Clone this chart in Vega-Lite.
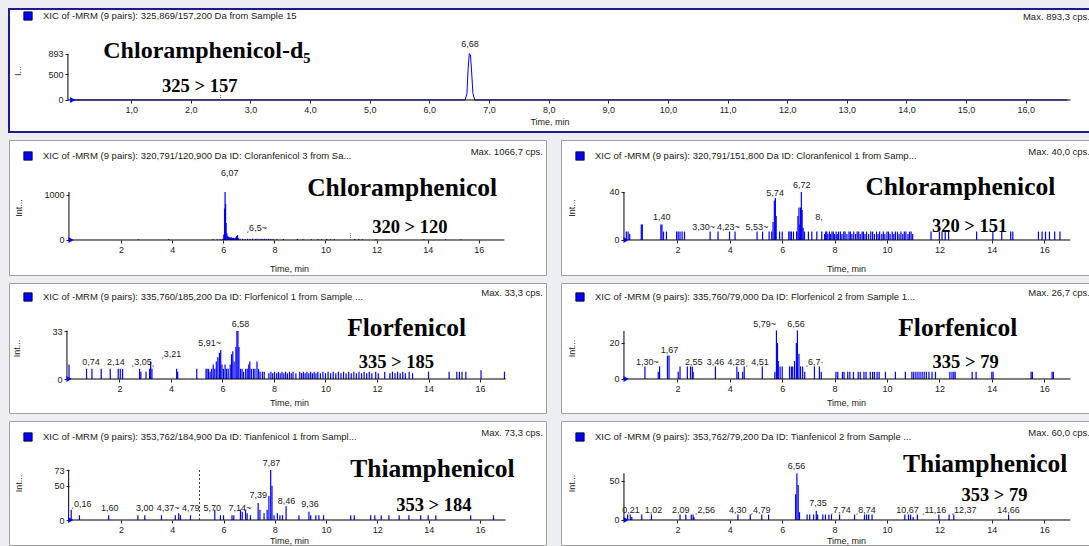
{
"$schema": "https://vega.github.io/schema/vega-lite/v6.json",
"padding": {"left": 8, "top": 8, "right": 0, "bottom": 0},
"background": "#eceef2",
"spacing": 6,
"config": {
  "font": "Liberation Sans",
  "axis": {"labelFont": "Liberation Sans", "labelFontSize": 9, "labelColor": "#222", "titleFont": "Liberation Sans", "titleFontSize": 9, "titleFontWeight": "normal", "titleColor": "#222", "grid": false, "domain": false, "tickSize": 3, "tickColor": "#222", "labelPadding": 2, "labelOverlap": false, "format": "d"},
  "legend": {"orient": "none", "title": null, "symbolType": "square", "symbolSize": 70, "symbolStrokeColor": "#000", "symbolStrokeWidth": 0.8, "labelFont": "Liberation Sans", "labelFontSize": 9.5, "labelColor": "#222", "labelLimit": 800, "labelOffset": 10, "padding": 0},
  "title": {"font": "Liberation Sans", "fontSize": 9.5, "fontWeight": "normal", "color": "#222", "anchor": "end", "baseline": "middle"},
  "text": {"font": "Liberation Sans", "fontSize": 9, "color": "#222"}
},
"datasets": {
  "top": [{"t":0,"i":0},{"t":6.6,"i":0},{"t":6.63,"i":120},{"t":6.65,"i":600},{"t":6.67,"i":893},{"t":6.69,"i":870},{"t":6.71,"i":520},{"t":6.73,"i":130},{"t":6.76,"i":0},{"t":16.7,"i":0}],
  "topl": [{"t":6.68,"i":1081,"label":"6,68"}],
  "p2": [{"t":0.03,"i":30},{"t":2.68,"i":15},{"t":3.86,"i":15},{"t":5.6,"i":15},{"t":5.75,"i":15},{"t":5.88,"i":15},{"t":5.98,"i":30},{"t":6.02,"i":120},{"t":6.05,"i":700},{"t":6.07,"i":1066},{"t":6.09,"i":800},{"t":6.11,"i":380},{"t":6.14,"i":150},{"t":6.17,"i":90},{"t":6.2,"i":70},{"t":6.24,"i":60},{"t":6.28,"i":55},{"t":6.32,"i":60},{"t":6.36,"i":45},{"t":6.4,"i":50},{"t":6.44,"i":40},{"t":6.48,"i":55},{"t":6.52,"i":90},{"t":6.56,"i":110},{"t":6.6,"i":40},{"t":6.66,"i":30},{"t":6.76,"i":25},{"t":6.85,"i":20},{"t":6.95,"i":25},{"t":7.05,"i":20},{"t":7.15,"i":25},{"t":7.25,"i":20},{"t":7.32,"i":25},{"t":7.4,"i":20},{"t":7.48,"i":25},{"t":7.55,"i":20},{"t":7.62,"i":25},{"t":7.7,"i":20},{"t":7.78,"i":25},{"t":7.86,"i":20},{"t":7.95,"i":20},{"t":8.1,"i":15},{"t":8.35,"i":20},{"t":8.9,"i":20},{"t":9.12,"i":15},{"t":9.45,"i":15},{"t":9.7,"i":15},{"t":9.85,"i":15},{"t":10.05,"i":20},{"t":10.2,"i":15},{"t":10.35,"i":15},{"t":11.15,"i":20},{"t":11.3,"i":20},{"t":11.45,"i":15},{"t":11.98,"i":15},{"t":13.85,"i":15},{"t":14.7,"i":15},{"t":15.3,"i":15}],
  "p2l": [{"t":6.25,"i":1480,"label":"6,07"},{"t":7.3,"i":270,"label":"ˏ6,5~"}],
  "p3": [{"t":0.05,"i":7},{"t":0.12,"i":7},{"t":0.18,"i":5},{"t":0.62,"i":13},{"t":0.66,"i":13},{"t":1.37,"i":13},{"t":1.41,"i":13},{"t":1.47,"i":7},{"t":1.58,"i":7},{"t":1.97,"i":7},{"t":2.03,"i":7},{"t":2.1,"i":7},{"t":2.18,"i":7},{"t":2.27,"i":7},{"t":3.25,"i":7},{"t":3.55,"i":7},{"t":3.99,"i":7},{"t":4.2,"i":7},{"t":5.04,"i":7},{"t":5.25,"i":7},{"t":5.5,"i":7},{"t":5.6,"i":7},{"t":5.65,"i":15},{"t":5.7,"i":33},{"t":5.74,"i":35},{"t":5.77,"i":20},{"t":5.9,"i":7},{"t":6.0,"i":7},{"t":6.25,"i":7},{"t":6.3,"i":7},{"t":6.35,"i":7},{"t":6.43,"i":7},{"t":6.55,"i":7},{"t":6.6,"i":20},{"t":6.64,"i":27},{"t":6.67,"i":13},{"t":6.7,"i":27},{"t":6.73,"i":40},{"t":6.76,"i":25},{"t":6.8,"i":10},{"t":6.85,"i":7},{"t":7.0,"i":7},{"t":7.13,"i":7},{"t":7.32,"i":7},{"t":7.51,"i":7},{"t":7.62,"i":5},{"t":7.66,"i":7},{"t":7.7,"i":7},{"t":7.74,"i":5},{"t":7.8,"i":7},{"t":7.85,"i":5},{"t":7.9,"i":7},{"t":7.95,"i":7},{"t":8.0,"i":5},{"t":8.06,"i":7},{"t":8.1,"i":5},{"t":8.15,"i":7},{"t":8.22,"i":7},{"t":8.28,"i":5},{"t":8.35,"i":7},{"t":8.4,"i":7},{"t":8.47,"i":5},{"t":8.55,"i":7},{"t":8.6,"i":7},{"t":8.66,"i":5},{"t":8.73,"i":7},{"t":8.8,"i":5},{"t":8.86,"i":7},{"t":8.92,"i":7},{"t":8.98,"i":5},{"t":9.05,"i":7},{"t":9.1,"i":7},{"t":9.16,"i":5},{"t":9.22,"i":7},{"t":9.3,"i":5},{"t":9.38,"i":7},{"t":9.45,"i":7},{"t":9.52,"i":5},{"t":9.6,"i":7},{"t":9.66,"i":5},{"t":9.72,"i":7},{"t":9.8,"i":5},{"t":9.86,"i":7},{"t":9.92,"i":5},{"t":10.0,"i":7},{"t":10.06,"i":7},{"t":10.12,"i":5},{"t":10.2,"i":7},{"t":10.26,"i":5},{"t":10.32,"i":7},{"t":10.4,"i":7},{"t":10.46,"i":5},{"t":10.53,"i":7},{"t":10.6,"i":5},{"t":10.66,"i":7},{"t":10.72,"i":7},{"t":10.8,"i":5},{"t":10.86,"i":7},{"t":10.92,"i":7},{"t":10.98,"i":5},{"t":11.68,"i":7},{"t":12.0,"i":7},{"t":12.1,"i":7},{"t":12.22,"i":7},{"t":12.35,"i":7},{"t":13.42,"i":7},{"t":14.04,"i":7},{"t":14.38,"i":7},{"t":14.72,"i":7},{"t":14.8,"i":7},{"t":15.78,"i":7},{"t":15.92,"i":7},{"t":16.05,"i":7},{"t":16.2,"i":7},{"t":16.4,"i":7},{"t":16.6,"i":7}],
  "p3l": [{"t":1.4,"i":19,"label":"1,40"},{"t":3.0,"i":10.8,"label":"3,30~"},{"t":3.95,"i":10.8,"label":"4,23~"},{"t":5.03,"i":10.8,"label":"5,53~"},{"t":5.73,"i":39,"label":"5,74"},{"t":6.75,"i":46,"label":"6,72"},{"t":7.4,"i":19,"label":"8,"}],
  "p4": [{"t":0.04,"i":10},{"t":0.72,"i":7},{"t":0.93,"i":7},{"t":1.29,"i":7},{"t":1.64,"i":7},{"t":1.95,"i":7},{"t":2.03,"i":7},{"t":2.12,"i":7},{"t":2.78,"i":7},{"t":2.83,"i":5},{"t":3.03,"i":5},{"t":3.17,"i":7},{"t":3.21,"i":12},{"t":3.26,"i":7},{"t":4.22,"i":7},{"t":4.26,"i":5},{"t":5.0,"i":7},{"t":5.36,"i":7},{"t":5.4,"i":7},{"t":5.46,"i":7},{"t":5.52,"i":5},{"t":5.58,"i":7},{"t":5.64,"i":10},{"t":5.7,"i":7},{"t":5.76,"i":12},{"t":5.82,"i":15},{"t":5.88,"i":18},{"t":5.93,"i":20},{"t":5.98,"i":10},{"t":6.04,"i":7},{"t":6.1,"i":10},{"t":6.16,"i":7},{"t":6.22,"i":7},{"t":6.3,"i":10},{"t":6.35,"i":17},{"t":6.4,"i":19},{"t":6.45,"i":12},{"t":6.52,"i":22},{"t":6.56,"i":33},{"t":6.6,"i":33},{"t":6.64,"i":22},{"t":6.7,"i":7},{"t":6.76,"i":7},{"t":6.82,"i":5},{"t":6.9,"i":7},{"t":6.96,"i":7},{"t":7.02,"i":10},{"t":7.06,"i":12},{"t":7.12,"i":7},{"t":7.2,"i":7},{"t":7.26,"i":7},{"t":7.34,"i":12},{"t":7.4,"i":7},{"t":7.46,"i":5},{"t":7.55,"i":5},{"t":7.62,"i":5},{"t":7.8,"i":4},{"t":7.88,"i":5},{"t":7.95,"i":4},{"t":8.02,"i":5},{"t":8.1,"i":4},{"t":8.17,"i":5},{"t":8.24,"i":4},{"t":8.31,"i":5},{"t":8.38,"i":4},{"t":8.45,"i":5},{"t":8.52,"i":4},{"t":8.6,"i":5},{"t":8.67,"i":4},{"t":8.74,"i":5},{"t":8.85,"i":4},{"t":9.0,"i":5},{"t":9.07,"i":4},{"t":9.14,"i":5},{"t":9.21,"i":4},{"t":9.28,"i":5},{"t":9.35,"i":4},{"t":9.42,"i":5},{"t":9.49,"i":4},{"t":9.56,"i":5},{"t":9.63,"i":4},{"t":9.7,"i":5},{"t":9.8,"i":4},{"t":9.9,"i":5},{"t":10.0,"i":4},{"t":10.1,"i":5},{"t":10.2,"i":4},{"t":10.3,"i":5},{"t":10.4,"i":4},{"t":10.5,"i":5},{"t":10.6,"i":4},{"t":10.7,"i":5},{"t":10.8,"i":4},{"t":10.9,"i":5},{"t":11.0,"i":4},{"t":11.1,"i":5},{"t":11.2,"i":4},{"t":11.3,"i":5},{"t":11.4,"i":4},{"t":11.5,"i":5},{"t":11.6,"i":4},{"t":11.7,"i":5},{"t":11.8,"i":4},{"t":11.95,"i":5},{"t":12.05,"i":4},{"t":12.3,"i":5},{"t":12.5,"i":4},{"t":12.6,"i":5},{"t":12.7,"i":4},{"t":12.8,"i":5},{"t":12.9,"i":4},{"t":13.0,"i":5},{"t":13.1,"i":4},{"t":13.25,"i":5},{"t":13.38,"i":4},{"t":14.0,"i":5},{"t":14.8,"i":5},{"t":15.1,"i":5},{"t":15.2,"i":5},{"t":15.3,"i":5},{"t":15.45,"i":5},{"t":16.04,"i":6},{"t":16.95,"i":5}],
  "p4l": [{"t":0.89,"i":11.5,"label":"0,74"},{"t":1.86,"i":11.5,"label":"2,14"},{"t":2.91,"i":11.5,"label":"ˎ3,05ˎ"},{"t":4.0,"i":17.5,"label":"ˏ3,21"},{"t":5.5,"i":24.5,"label":"5,91~"},{"t":6.7,"i":37.5,"label":"6,58"}],
  "p5": [{"t":0.76,"i":7},{"t":1.27,"i":4},{"t":1.32,"i":7},{"t":1.62,"i":13},{"t":1.68,"i":13},{"t":2.03,"i":4},{"t":2.1,"i":7},{"t":2.38,"i":7},{"t":2.5,"i":7},{"t":2.57,"i":7},{"t":2.6,"i":4},{"t":3.45,"i":7},{"t":4.27,"i":7},{"t":4.33,"i":4},{"t":4.49,"i":4},{"t":4.55,"i":7},{"t":5.24,"i":7},{"t":5.72,"i":4},{"t":5.78,"i":27},{"t":5.82,"i":20},{"t":5.85,"i":10},{"t":5.92,"i":7},{"t":6.0,"i":7},{"t":6.28,"i":7},{"t":6.35,"i":7},{"t":6.4,"i":7},{"t":6.47,"i":10},{"t":6.54,"i":20},{"t":6.58,"i":27},{"t":6.64,"i":14},{"t":6.7,"i":7},{"t":6.78,"i":7},{"t":6.86,"i":4},{"t":7.23,"i":7},{"t":7.42,"i":7},{"t":7.49,"i":4},{"t":8.05,"i":4},{"t":8.12,"i":4},{"t":8.3,"i":4},{"t":8.36,"i":4},{"t":8.5,"i":4},{"t":8.58,"i":4},{"t":8.72,"i":4},{"t":8.9,"i":4},{"t":8.98,"i":4},{"t":9.12,"i":4},{"t":9.2,"i":4},{"t":9.36,"i":4},{"t":9.45,"i":4},{"t":9.52,"i":4},{"t":9.62,"i":4},{"t":9.7,"i":4},{"t":9.94,"i":4},{"t":10.32,"i":4},{"t":10.7,"i":4},{"t":10.95,"i":4},{"t":11.02,"i":4},{"t":11.1,"i":4},{"t":11.18,"i":4},{"t":11.26,"i":4},{"t":11.34,"i":4},{"t":11.42,"i":4},{"t":11.5,"i":4},{"t":11.6,"i":4},{"t":11.72,"i":4},{"t":11.85,"i":4},{"t":12.4,"i":4},{"t":12.48,"i":4},{"t":12.55,"i":4},{"t":12.6,"i":4},{"t":13.25,"i":4},{"t":13.4,"i":4},{"t":14.0,"i":4},{"t":14.05,"i":4},{"t":15.5,"i":4},{"t":15.55,"i":4},{"t":16.3,"i":4},{"t":16.35,"i":4}],
  "p5l": [{"t":0.85,"i":9.7,"label":"1,30~"},{"t":1.7,"i":16.3,"label":"1,67"},{"t":2.62,"i":9.7,"label":"2,55"},{"t":3.45,"i":9.7,"label":"3,46"},{"t":4.3,"i":9.7,"label":"4,28ˏ"},{"t":5.15,"i":9.7,"label":"4,51"},{"t":5.33,"i":30.3,"label":"5,79~"},{"t":6.53,"i":30.3,"label":"6,56"},{"t":7.22,"i":9.7,"label":"ˏ6,7·"}],
  "p6": [{"t":0.06,"i":15},{"t":0.38,"i":7},{"t":1.52,"i":7},{"t":2.66,"i":7},{"t":2.93,"i":7},{"t":3.58,"i":7},{"t":4.12,"i":7},{"t":4.25,"i":10},{"t":4.32,"i":7},{"t":4.71,"i":7},{"t":5.66,"i":15},{"t":5.88,"i":7},{"t":6.0,"i":7},{"t":6.33,"i":7},{"t":6.4,"i":7},{"t":6.66,"i":15},{"t":6.73,"i":12},{"t":6.86,"i":15},{"t":6.92,"i":10},{"t":7.05,"i":7},{"t":7.35,"i":25},{"t":7.42,"i":15},{"t":7.58,"i":10},{"t":7.7,"i":15},{"t":7.77,"i":35},{"t":7.84,"i":73},{"t":7.89,"i":50},{"t":7.97,"i":7},{"t":8.1,"i":10},{"t":8.2,"i":7},{"t":8.3,"i":7},{"t":8.44,"i":20},{"t":8.94,"i":7},{"t":9.33,"i":12},{"t":9.4,"i":7},{"t":9.6,"i":7},{"t":9.72,"i":7},{"t":9.9,"i":7},{"t":10.96,"i":7},{"t":11.1,"i":7},{"t":11.74,"i":7},{"t":11.9,"i":7},{"t":12.15,"i":7},{"t":12.45,"i":7},{"t":12.85,"i":7},{"t":13.23,"i":7},{"t":13.69,"i":7},{"t":13.98,"i":7},{"t":14.28,"i":7},{"t":15.64,"i":7},{"t":16.53,"i":7}],
  "p6l": [{"t":0.45,"i":23.4,"label":"ˏ0,16"},{"t":1.56,"i":17,"label":"1,60"},{"t":2.93,"i":17,"label":"3,00"},{"t":3.84,"i":17,"label":"4,37~"},{"t":4.72,"i":17,"label":"4,79"},{"t":5.56,"i":17,"label":"5,70"},{"t":6.64,"i":17,"label":"7,14~"},{"t":7.35,"i":36.5,"label":"7,39"},{"t":7.87,"i":82.7,"label":"7,87"},{"t":8.46,"i":28.2,"label":"8,46"},{"t":9.37,"i":23.4,"label":"9,36"}],
  "p7": [{"t":0.1,"i":7},{"t":0.2,"i":7},{"t":0.26,"i":4},{"t":0.64,"i":7},{"t":1.01,"i":7},{"t":2.1,"i":7},{"t":2.32,"i":7},{"t":2.53,"i":7},{"t":2.6,"i":7},{"t":2.63,"i":4},{"t":4.31,"i":7},{"t":4.78,"i":7},{"t":5.22,"i":7},{"t":5.48,"i":7},{"t":6.51,"i":33},{"t":6.56,"i":60},{"t":6.61,"i":45},{"t":6.66,"i":10},{"t":6.95,"i":7},{"t":7.05,"i":7},{"t":7.2,"i":7},{"t":7.3,"i":12},{"t":7.35,"i":7},{"t":7.55,"i":7},{"t":7.65,"i":7},{"t":7.78,"i":7},{"t":7.88,"i":7},{"t":8.19,"i":7},{"t":8.76,"i":7},{"t":9.14,"i":7},{"t":9.22,"i":7},{"t":9.3,"i":7},{"t":9.43,"i":7},{"t":10.68,"i":7},{"t":10.82,"i":7},{"t":10.9,"i":7},{"t":11.0,"i":4},{"t":11.16,"i":7},{"t":11.98,"i":7},{"t":12.37,"i":7},{"t":12.55,"i":7},{"t":14.64,"i":7}],
  "p7l": [{"t":0.23,"i":12.5,"label":"0,21"},{"t":1.09,"i":12.5,"label":"1,02"},{"t":2.13,"i":12.5,"label":"2,09"},{"t":3.04,"i":12.5,"label":"ˏ2,56"},{"t":4.3,"i":12.5,"label":"4,30"},{"t":5.16,"i":12.5,"label":"ˏ4,79"},{"t":6.55,"i":69,"label":"6,56"},{"t":7.37,"i":22.4,"label":"7,35"},{"t":8.22,"i":12.5,"label":"ˏ7,74"},{"t":9.18,"i":12.5,"label":"ˏ8,74"},{"t":10.78,"i":12.5,"label":"10,67"},{"t":11.79,"i":12.5,"label":"ˏ11,16"},{"t":12.93,"i":12.5,"label":"ˏ12,37"},{"t":14.64,"i":12.5,"label":"14,66"}]
},
"resolve": {"scale": {"x": "independent", "y": "independent", "color": "independent"}, "axis": {"x": "independent", "y": "independent"}, "legend": {"color": "independent"}},
"vconcat": [
  {
    "width": 1081, "height": 123,
    "view": {"stroke": "#1c1c8c", "strokeWidth": 2, "fill": "white"},
    "title": {"text": "Max. 893,3 cps.", "offset": -12, "dx": 0},
    "layer": [
      {"data": {"name": "top"}, "mark": {"type": "line", "color": "#0000ff", "strokeWidth": 1},
       "encoding": {
         "x": {"field": "t", "type": "quantitative", "scale": {"domain": [-1.048, 17.077], "nice": false, "zero": false},
               "axis": {"values": [1,2,3,4,5,6,7,8,9,10,11,12,13,14,15,16], "labelExpr": "replace(format(datum.value, '.1f'), '.', ',')", "offset": -32, "title": "Time, min", "titlePadding": 3}},
         "y": {"field": "i", "type": "quantitative", "scale": {"domain": [-618, 1756], "nice": false, "zero": false},
               "axis": {"values": [0, 500, 893], "offset": -59, "title": "I...", "titleX": -46}}}},
      {"data": {"values": [{}]}, "mark": {"type": "rule", "color": "#000"}, "encoding": {"x": {"datum": -0.06}, "x2": {"datum": 16.75}, "y": {"datum": 0}}},
      {"data": {"values": [{}]}, "mark": {"type": "rule", "color": "#000"}, "encoding": {"x": {"datum": -0.06}, "y": {"datum": 0}, "y2": {"datum": 893}}},
      {"data": {"values": [{}]}, "mark": {"type": "rule", "color": "#666", "strokeDash": [1, 1]}, "encoding": {"x": {"datum": 2.5}, "y": {"datum": 0}, "y2": {"datum": 120}}},
      {"data": {"values": [{}]}, "mark": {"type": "point", "shape": "triangle-right", "filled": true, "size": 35, "opacity": 1},
       "encoding": {"x": {"datum": 0.02}, "y": {"datum": 0},
         "color": {"datum": "XIC of -MRM (9 pairs): 325,869/157,200 Da  from Sample 15", "scale": {"range": ["#0000ff"]}, "legend": {"legendX": 14, "legendY": 2}}}},
      {"data": {"name": "topl"}, "mark": {"type": "text"}, "encoding": {"x": {"field": "t", "type": "quantitative"}, "y": {"field": "i", "type": "quantitative"}, "text": {"field": "label"}}},
      {"data": {"values": [{}]}, "mark": {"type": "text", "font": "Liberation Serif", "fontWeight": "bold", "fontSize": 24, "color": "#000", "text": "Chloramphenicol-d₅"}, "encoding": {"x": {"datum": 2.27}, "y": {"datum": 946}}},
      {"data": {"values": [{}]}, "mark": {"type": "text", "font": "Liberation Serif", "fontWeight": "bold", "fontSize": 18.5, "color": "#000", "text": "325 > 157"}, "encoding": {"x": {"datum": 2.15}, "y": {"datum": 270}}}
    ]
  },
  {
    "hconcat": [
      {
        "width": 537, "height": 135,
        "view": {"stroke": "#a0a0a0", "fill": "white"},
        "title": {"text": "Max. 1066,7 cps.", "offset": -16, "dx": -3},
        "layer": [
          {"data": {"name": "p2"}, "mark": {"type": "rule", "color": "#0000ff", "strokeWidth": 1.2},
           "encoding": {
             "x": {"field": "t", "type": "quantitative", "scale": {"domain": [-2.387, 18.631], "nice": false, "zero": false},
                   "axis": {"values": [2,4,6,8,10,12,14,16], "offset": -35, "title": "Time, min", "titlePadding": 10, "titleX": 280}},
             "y": {"field": "i", "type": "quantitative", "scale": {"domain": [-777.8, 2222], "nice": false, "zero": false},
                   "axis": {"values": [0, 1000], "offset": -60, "title": "Int...", "titleX": -46}},
             "y2": {"datum": 0}}},
          {"data": {"values": [{}]}, "mark": {"type": "rule", "color": "#000"}, "encoding": {"x": {"datum": -0.04}, "x2": {"datum": 17}, "y": {"datum": 0}}},
          {"data": {"values": [{}]}, "mark": {"type": "rule", "color": "#000"}, "encoding": {"x": {"datum": -0.04}, "y": {"datum": 0}, "y2": {"datum": 1066.7}}},
          {"data": {"values": [{}]}, "mark": {"type": "rule", "color": "#666", "strokeDash": [1, 1]}, "encoding": {"x": {"datum": 10.98}, "y": {"datum": 0}, "y2": {"datum": 180}}},
          {"data": {"values": [{}]}, "mark": {"type": "point", "shape": "triangle-right", "filled": true, "size": 35, "opacity": 1},
           "encoding": {"x": {"datum": 0.04}, "y": {"datum": 0},
             "color": {"datum": "XIC of -MRM (9 pairs): 320,791/120,900 Da ID: Cloranfenicol 3 from Sa...", "scale": {"range": ["#0000ff"]}, "legend": {"legendX": 14, "legendY": 11}}}},
          {"data": {"name": "p2l"}, "mark": {"type": "text"}, "encoding": {"x": {"field": "t", "type": "quantitative"}, "y": {"field": "i", "type": "quantitative"}, "text": {"field": "label"}}},
          {"data": {"values": [{}]}, "mark": {"type": "text", "font": "Liberation Serif", "fontWeight": "bold", "fontSize": 25.5, "color": "#000", "text": "Chloramphenicol"}, "encoding": {"x": {"datum": 13.0}, "y": {"datum": 1150}}},
          {"data": {"values": [{}]}, "mark": {"type": "text", "font": "Liberation Serif", "fontWeight": "bold", "fontSize": 18.5, "color": "#000", "text": "320 > 120"}, "encoding": {"x": {"datum": 13.3}, "y": {"datum": 290}}}
        ]
      },
      {
        "width": 531, "height": 135,
        "view": {"stroke": "#a0a0a0", "fill": "white"},
        "title": {"text": "Max. 40,0 cps.", "offset": -16, "dx": -2},
        "layer": [
          {"data": {"name": "p3"}, "mark": {"type": "rule", "color": "#0000ff", "strokeWidth": 1.2},
           "encoding": {
             "x": {"field": "t", "type": "quantitative", "scale": {"domain": [-2.443, 17.824], "nice": false, "zero": false},
                   "axis": {"values": [2,4,6,8,10,12,14,16], "offset": -35, "title": "Time, min", "titlePadding": 10, "titleX": 285}},
             "y": {"field": "i", "type": "quantitative", "scale": {"domain": [-29.17, 83.33], "nice": false, "zero": false},
                   "axis": {"values": [0, 40], "offset": -63, "title": "Int...", "titleX": -48}},
             "y2": {"datum": 0}}},
          {"data": {"values": [{}]}, "mark": {"type": "rule", "color": "#000"}, "encoding": {"x": {"datum": -0.04}, "x2": {"datum": 17}, "y": {"datum": 0}}},
          {"data": {"values": [{}]}, "mark": {"type": "rule", "color": "#000"}, "encoding": {"x": {"datum": -0.04}, "y": {"datum": 0}, "y2": {"datum": 40}}},
          {"data": {"values": [{}]}, "mark": {"type": "point", "shape": "triangle-right", "filled": true, "size": 35, "opacity": 1},
           "encoding": {"x": {"datum": 0.04}, "y": {"datum": 0},
             "color": {"datum": "XIC of -MRM (9 pairs): 320,791/151,800 Da ID: Cloranfenicol 1 from Samp...", "scale": {"range": ["#0000ff"]}, "legend": {"legendX": 14, "legendY": 11}}}},
          {"data": {"name": "p3l"}, "mark": {"type": "text"}, "encoding": {"x": {"field": "t", "type": "quantitative"}, "y": {"field": "i", "type": "quantitative"}, "text": {"field": "label"}}},
          {"data": {"values": [{}]}, "mark": {"type": "text", "font": "Liberation Serif", "fontWeight": "bold", "fontSize": 25.5, "color": "#000", "text": "Chloramphenicol"}, "encoding": {"x": {"datum": 12.8}, "y": {"datum": 44}}},
          {"data": {"values": [{}]}, "mark": {"type": "text", "font": "Liberation Serif", "fontWeight": "bold", "fontSize": 18.5, "color": "#000", "text": "320 > 151"}, "encoding": {"x": {"datum": 13.15}, "y": {"datum": 11.5}}}
        ]
      }
    ],
    "spacing": 13,
    "resolve": {"scale": {"x": "independent", "y": "independent", "color": "independent"}, "axis": {"x": "independent", "y": "independent"}, "legend": {"color": "independent"}}
  },
  {
    "hconcat": [
      {
        "width": 537, "height": 130,
        "view": {"stroke": "#a0a0a0", "fill": "white"},
        "title": {"text": "Max. 33,3 cps.", "offset": -14, "dx": -3},
        "layer": [
          {"data": {"name": "p4"}, "mark": {"type": "rule", "color": "#0000ff", "strokeWidth": 1.2},
           "encoding": {
             "x": {"field": "t", "type": "quantitative", "scale": {"domain": [-2.291, 18.563], "nice": false, "zero": false},
                   "axis": {"values": [2,4,6,8,10,12,14,16], "offset": -34, "title": "Time, min", "titlePadding": 5, "titleX": 280}},
             "y": {"field": "i", "type": "quantitative", "scale": {"domain": [-23.375, 66], "nice": false, "zero": false},
                   "axis": {"values": [0, 33], "offset": -58, "title": "Int...", "titleX": -46}},
             "y2": {"datum": 0}}},
          {"data": {"values": [{}]}, "mark": {"type": "rule", "color": "#000"}, "encoding": {"x": {"datum": -0.04}, "x2": {"datum": 17}, "y": {"datum": 0}}},
          {"data": {"values": [{}]}, "mark": {"type": "rule", "color": "#000"}, "encoding": {"x": {"datum": -0.04}, "y": {"datum": 0}, "y2": {"datum": 33.3}}},
          {"data": {"values": [{}]}, "mark": {"type": "point", "shape": "triangle-right", "filled": true, "size": 35, "opacity": 1},
           "encoding": {"x": {"datum": 0.04}, "y": {"datum": 0},
             "color": {"datum": "XIC of -MRM (9 pairs): 335,760/185,200 Da ID: Florfenicol 1 from Sample ...", "scale": {"range": ["#0000ff"]}, "legend": {"legendX": 14, "legendY": 9}}}},
          {"data": {"name": "p4l"}, "mark": {"type": "text"}, "encoding": {"x": {"field": "t", "type": "quantitative"}, "y": {"field": "i", "type": "quantitative"}, "text": {"field": "label"}}},
          {"data": {"values": [{}]}, "mark": {"type": "text", "font": "Liberation Serif", "fontWeight": "bold", "fontSize": 25.5, "color": "#000", "text": "Florfenicol"}, "encoding": {"x": {"datum": 13.15}, "y": {"datum": 35}}},
          {"data": {"values": [{}]}, "mark": {"type": "text", "font": "Liberation Serif", "fontWeight": "bold", "fontSize": 18.5, "color": "#000", "text": "335 > 185"}, "encoding": {"x": {"datum": 12.75}, "y": {"datum": 11.8}}}
        ]
      },
      {
        "width": 531, "height": 130,
        "view": {"stroke": "#a0a0a0", "fill": "white"},
        "title": {"text": "Max. 26,7 cps.", "offset": -14, "dx": -2},
        "layer": [
          {"data": {"name": "p5"}, "mark": {"type": "rule", "color": "#0000ff", "strokeWidth": 1.2},
           "encoding": {
             "x": {"field": "t", "type": "quantitative", "scale": {"domain": [-2.443, 17.824], "nice": false, "zero": false},
                   "axis": {"values": [2,4,6,8,10,12,14,16], "offset": -34, "title": "Time, min", "titlePadding": 5, "titleX": 285}},
             "y": {"field": "i", "type": "quantitative", "scale": {"domain": [-18.89, 53.33], "nice": false, "zero": false},
                   "axis": {"values": [0, 20], "offset": -63, "title": "Int...", "titleX": -48}},
             "y2": {"datum": 0}}},
          {"data": {"values": [{}]}, "mark": {"type": "rule", "color": "#000"}, "encoding": {"x": {"datum": -0.04}, "x2": {"datum": 17}, "y": {"datum": 0}}},
          {"data": {"values": [{}]}, "mark": {"type": "rule", "color": "#000"}, "encoding": {"x": {"datum": -0.04}, "y": {"datum": 0}, "y2": {"datum": 26.7}}},
          {"data": {"values": [{}]}, "mark": {"type": "point", "shape": "triangle-right", "filled": true, "size": 35, "opacity": 1},
           "encoding": {"x": {"datum": 0.04}, "y": {"datum": 0},
             "color": {"datum": "XIC of -MRM (9 pairs): 335,760/79,000 Da ID: Florfenicol 2 from Sample 1...", "scale": {"range": ["#0000ff"]}, "legend": {"legendX": 14, "legendY": 9}}}},
          {"data": {"name": "p5l"}, "mark": {"type": "text"}, "encoding": {"x": {"field": "t", "type": "quantitative"}, "y": {"field": "i", "type": "quantitative"}, "text": {"field": "label"}}},
          {"data": {"values": [{}]}, "mark": {"type": "text", "font": "Liberation Serif", "fontWeight": "bold", "fontSize": 25.5, "color": "#000", "text": "Florfenicol"}, "encoding": {"x": {"datum": 12.7}, "y": {"datum": 28.6}}},
          {"data": {"values": [{}]}, "mark": {"type": "text", "font": "Liberation Serif", "fontWeight": "bold", "fontSize": 18.5, "color": "#000", "text": "335 > 79"}, "encoding": {"x": {"datum": 13.0}, "y": {"datum": 9.3}}}
        ]
      }
    ],
    "spacing": 13,
    "resolve": {"scale": {"x": "independent", "y": "independent", "color": "independent"}, "axis": {"x": "independent", "y": "independent"}, "legend": {"color": "independent"}}
  },
  {
    "hconcat": [
      {
        "width": 537, "height": 124,
        "view": {"stroke": "#a0a0a0", "fill": "white"},
        "title": {"text": "Max. 73,3 cps.", "offset": -16, "dx": -3},
        "layer": [
          {"data": {"name": "p6"}, "mark": {"type": "rule", "color": "#0000ff", "strokeWidth": 1.2},
           "encoding": {
             "x": {"field": "t", "type": "quantitative", "scale": {"domain": [-2.367, 18.577], "nice": false, "zero": false},
                   "axis": {"values": [2,4,6,8,10,12,14,16], "offset": -25, "title": "Time, min", "titlePadding": 2, "titleX": 280}},
             "y": {"field": "i", "type": "quantitative", "scale": {"domain": [-36.5, 144.54], "nice": false, "zero": false},
                   "axis": {"values": [0, 50, 73], "offset": -60, "title": "Int...", "titleX": -46}},
             "y2": {"datum": 0}}},
          {"data": {"values": [{}]}, "mark": {"type": "rule", "color": "#000"}, "encoding": {"x": {"datum": -0.04}, "x2": {"datum": 17}, "y": {"datum": 0}}},
          {"data": {"values": [{}]}, "mark": {"type": "rule", "color": "#000"}, "encoding": {"x": {"datum": -0.04}, "y": {"datum": 0}, "y2": {"datum": 73.3}}},
          {"data": {"values": [{}]}, "mark": {"type": "rule", "color": "#333", "strokeDash": [2, 2]}, "encoding": {"x": {"datum": 5.06}, "y": {"datum": 0}, "y2": {"datum": 73}}},
          {"data": {"values": [{}]}, "mark": {"type": "point", "shape": "triangle-right", "filled": true, "size": 35, "opacity": 1},
           "encoding": {"x": {"datum": 0.04}, "y": {"datum": 0},
             "color": {"datum": "XIC of -MRM (9 pairs): 353,762/184,900 Da ID: Tianfenicol 1 from Sampl...", "scale": {"range": ["#0000ff"]}, "legend": {"legendX": 14, "legendY": 11}}}},
          {"data": {"name": "p6l"}, "mark": {"type": "text"}, "encoding": {"x": {"field": "t", "type": "quantitative"}, "y": {"field": "i", "type": "quantitative"}, "text": {"field": "label"}}},
          {"data": {"values": [{}]}, "mark": {"type": "text", "font": "Liberation Serif", "fontWeight": "bold", "fontSize": 25.5, "color": "#000", "text": "Thiamphenicol"}, "encoding": {"x": {"datum": 14.15}, "y": {"datum": 74}}},
          {"data": {"values": [{}]}, "mark": {"type": "text", "font": "Liberation Serif", "fontWeight": "bold", "fontSize": 18.5, "color": "#000", "text": "353 > 184"}, "encoding": {"x": {"datum": 14.2}, "y": {"datum": 21.5}}}
        ]
      },
      {
        "width": 531, "height": 124,
        "view": {"stroke": "#a0a0a0", "fill": "white"},
        "title": {"text": "Max. 60,0 cps.", "offset": -16, "dx": -2},
        "layer": [
          {"data": {"name": "p7"}, "mark": {"type": "rule", "color": "#0000ff", "strokeWidth": 1.2},
           "encoding": {
             "x": {"field": "t", "type": "quantitative", "scale": {"domain": [-2.443, 17.824], "nice": false, "zero": false},
                   "axis": {"values": [2,4,6,8,10,12,14,16], "offset": -25, "title": "Time, min", "titlePadding": 2, "titleX": 285}},
             "y": {"field": "i", "type": "quantitative", "scale": {"domain": [-32.05, 126.9], "nice": false, "zero": false},
                   "axis": {"values": [0, 50], "offset": -63, "title": "Int...", "titleX": -48}},
             "y2": {"datum": 0}}},
          {"data": {"values": [{}]}, "mark": {"type": "rule", "color": "#000"}, "encoding": {"x": {"datum": -0.04}, "x2": {"datum": 17}, "y": {"datum": 0}}},
          {"data": {"values": [{}]}, "mark": {"type": "rule", "color": "#000"}, "encoding": {"x": {"datum": -0.04}, "y": {"datum": 0}, "y2": {"datum": 60}}},
          {"data": {"values": [{}]}, "mark": {"type": "point", "shape": "triangle-right", "filled": true, "size": 35, "opacity": 1},
           "encoding": {"x": {"datum": 0.04}, "y": {"datum": 0},
             "color": {"datum": "XIC of -MRM (9 pairs): 353,762/79,200 Da ID: Tianfenicol 2 from Sample ...", "scale": {"range": ["#0000ff"]}, "legend": {"legendX": 14, "legendY": 11}}}},
          {"data": {"name": "p7l"}, "mark": {"type": "text"}, "encoding": {"x": {"field": "t", "type": "quantitative"}, "y": {"field": "i", "type": "quantitative"}, "text": {"field": "label"}}},
          {"data": {"values": [{}]}, "mark": {"type": "text", "font": "Liberation Serif", "fontWeight": "bold", "fontSize": 25.5, "color": "#000", "text": "Thiamphenicol"}, "encoding": {"x": {"datum": 13.75}, "y": {"datum": 72}}},
          {"data": {"values": [{}]}, "mark": {"type": "text", "font": "Liberation Serif", "fontWeight": "bold", "fontSize": 18.5, "color": "#000", "text": "353 > 79"}, "encoding": {"x": {"datum": 14.1}, "y": {"datum": 32}}}
        ]
      }
    ],
    "spacing": 13,
    "resolve": {"scale": {"x": "independent", "y": "independent", "color": "independent"}, "axis": {"x": "independent", "y": "independent"}, "legend": {"color": "independent"}}
  }
]
}
